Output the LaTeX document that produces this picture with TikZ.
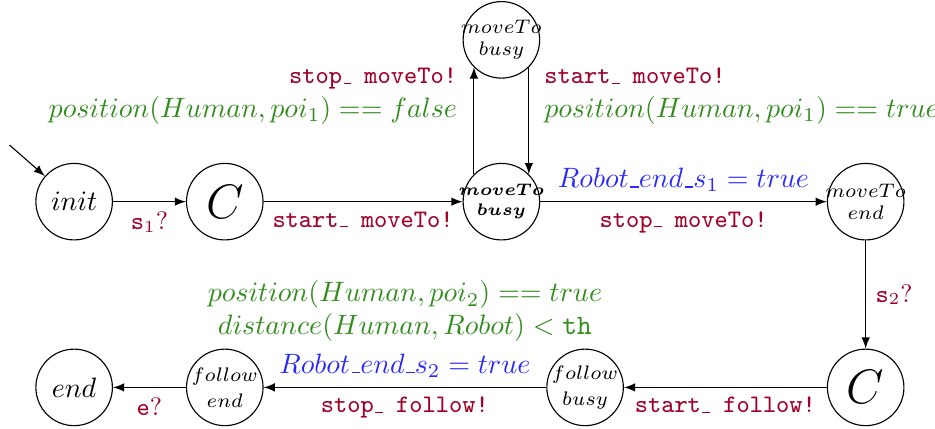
\documentclass[tikz,border=0pt]{standalone}
\usepackage{amsmath,amssymb}
\usepackage{tikz}
\usetikzlibrary{arrows}
\usetikzlibrary{calc}

\definecolor{chanred}{RGB}{160,0,40}
\definecolor{guardgreen}{RGB}{50,140,30}
\definecolor{updblue}{RGB}{40,40,255}

\tikzset{
  loc/.style={draw,circle,inner sep=0pt,minimum size=0.96cm},
  sync/.style={text=chanred,font=\small\ttfamily},
  guard/.style={text=guardgreen,font=\fontsize{9.75}{11.8}\selectfont},
  upd/.style={text=updblue}
}
% short underscore, as in the old OT1 fonts
\newcommand{\usc}{\leavevmode\kern.06em\vbox{\hrule width.3em}}
% two line location names, kept inside the circle
\newcommand{\twoline}[2]{\makebox[0pt]{\shortstack{$#1$\\$#2$}}}

\begin{document}
\begin{tikzpicture}[>=latex]
  \useasboundingbox (0,0) rectangle (11.73,5.37);
  % first row
  \node [loc] (init) at (0.93,2.84) {$init$};
  \node [loc] (c1) at (2.82,2.84) {\LARGE $C$};
  \node [loc,font=\fontsize{5.8}{7}\selectfont] (mb) at (6.29,2.84)
    {\twoline{\boldsymbol{moveTo}}{\boldsymbol{busy}}};
  \node [loc,font=\scriptsize] (mbtop) at (6.29,4.87) {\twoline{moveTo}{busy}};
  \node [loc,font=\scriptsize] (me) at (10.86,2.84) {\twoline{moveTo}{end}};
  % second row
  \node [loc] (c2) at (10.86,0.51) {\LARGE $C$};
  \node [loc,font=\scriptsize] (fb) at (7.34,0.51) {\twoline{follow}{busy}};
  \node [loc,font=\scriptsize] (fe) at (2.82,0.51) {\twoline{follow}{end}};
  \node [loc] (final) at (0.93,0.51) {$end$};
  % initial location
  \coordinate (start) at (0.12,3.55);
  \draw [->] (start) -- (init);
  \draw [->] (init) -- node [sync,below] (l1) {s$_1$\textrm{?}} (c1);
  \draw [->] (c1) -- node [sync,below] (l2) {start\usc\ moveTo!} (mb);
  \draw [->] (mb.135) -- node [guard,pos=0.73,left=2.5pt,align=right] (l3)
    {\textcolor{chanred}{\small\ttfamily stop\usc\ moveTo!}\\
     $position(Human,poi_1) == false$} (mbtop.225);
  \draw [->] (mbtop.315) -- node [guard,pos=0.27,right=2pt,align=left] (l4)
    {\textcolor{chanred}{\small\ttfamily start\usc\ moveTo!}\\
     $position(Human,poi_1) == true$} (mb.45);
  \draw [->] (mb) -- node [upd,above] (l5) {$Robot\usc end\usc s_1 = true$}
    node [sync,below] (l6) {stop\usc\ moveTo!} (me);
  \draw [->] (me) -- node [sync,right] (l7) {s$_2$\textrm{?}} (c2);
  \draw [->] (c2) -- node [sync,below] (l8) {start\usc\ follow!} (fb);
  \draw [->] (fb) -- node [upd,above] (l9) {$Robot\usc end\usc s_2 = true$}
    node [sync,below] (l10) {stop\usc\ follow!}
    node [guard,above=12.7pt,align=center] (l11)
    {$position(Human,poi_2) == true$\\$distance(Human,Robot) < \mathtt{th}$} (fe);
  \draw [->] (fe) -- node [sync,below] (l12) {e\textrm{?}} (final);
\end{tikzpicture}
\end{document}
